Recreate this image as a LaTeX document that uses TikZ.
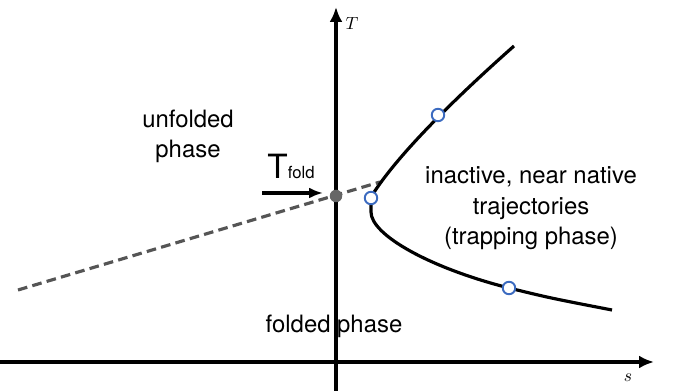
\documentclass[tikz,border=0pt]{standalone}
\usepackage{amsmath}
\usepackage{fontspec}
\setsansfont{TeX Gyre Heros}
\usetikzlibrary{arrows.meta}
\usepackage{xcolor}
\definecolor{ptblue}{HTML}{3C6BC0}
\definecolor{dashgray}{HTML}{555555}
\tikzset{
  txt/.style={font=\sffamily\fontsize{13.6}{17.6}\selectfont, align=center},
  marker/.style={circle, draw=ptblue, fill=white, line width=1.1pt, inner sep=0pt, minimum size=0.25cm},
}

\begin{document}
\begin{tikzpicture}[x=0.02cm, y=-0.02cm, line width=1.8pt]
\useasboundingbox (0,0) rectangle (684,391);
% axes
\coordinate (sL) at (0,362);
\coordinate (sR) at (654,362);
\coordinate (tB) at (336,391);
\coordinate (tT) at (336,7);
\draw[-{Latex[length=0.3cm,width=0.26cm]}] (sL) -- (sR);
\draw[-{Latex[length=0.3cm,width=0.26cm]}] (tB) -- (tT);
\node (slab) at (628,378) {\(s\)};
\node (tlab) at (352,24) {\(T\)};
% transition line
\coordinate (d0) at (18,290);
\coordinate (d1) at (380,182);
\draw[dashgray, dash pattern=on 5.5pt off 3pt] (d0) -- (d1);
\node[circle, fill=dashgray!90, inner sep=0pt, minimum size=0.25cm] (fold) at (336,196) {};
% curve
\draw (514,46) .. controls (470,85) and (400,150) .. (371,197) -- (371,212)
  .. controls (371,235) and (430,268) .. (509,288) .. controls (550,298) .. (612,310);
\node[marker] (m1) at (438,115) {};
\node[marker] (m2) at (371,198) {};
\node[marker] (m3) at (509,288) {};
% labels
\node[txt, anchor=base] (Tf) at (291,179) {\fontsize{19}{20}\selectfont T\fontsize{9.5}{10}\selectfont fold};
\coordinate (a0) at (262,193);
\coordinate (a1) at (323,193);
\draw[-{Latex[length=0.28cm,width=0.22cm]}] (a0) -- (a1);
\node[txt, anchor=base] (unf) at (188,158) {unfolded\\phase};
\node[txt, anchor=base] (inact) at (531,245) {inactive, near native\\trajectories\\(trapping phase)};
\node[txt, anchor=base] (fol) at (334,333) {folded phase};
\end{tikzpicture}
\end{document}
